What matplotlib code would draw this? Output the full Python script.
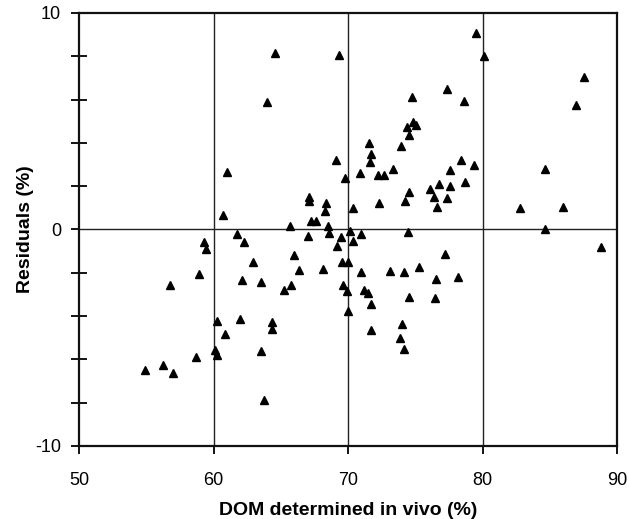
import numpy as np
import matplotlib.pyplot as plt
from matplotlib.ticker import MultipleLocator

plt.rcParams['font.family'] = ['Liberation Sans', 'DejaVu Sans']
plt.rcParams['axes.unicode_minus'] = False

# DOM determined in vivo (%) and residuals (%)
dom_vivo = [
    60.97, 60.7, 64.57, 69.31, 64.0, 71.54, 71.7, 71.6, 69.08, 70.89,
    69.75, 67.12, 67.07, 68.34, 68.29, 70.34, 67.25, 67.64, 65.71, 68.51,
    79.52, 80.11, 77.34, 74.73, 78.65, 74.86, 75.06, 74.36, 74.54, 73.97,
    78.4, 79.39, 73.37, 72.23, 72.68, 77.61, 76.74, 77.56, 78.7, 76.12,
    74.56, 76.36, 77.38, 74.21, 72.3, 76.59, 74.48, 87.55, 86.93, 84.65,
    82.79, 86.0, 84.65, 88.8, 61.77, 59.32, 59.44, 62.29, 62.91, 58.92,
    62.1, 56.74, 60.28, 61.97, 60.88, 60.11, 60.24, 58.67, 56.25, 54.91,
    57.01, 68.59, 67.0, 69.48, 70.15, 70.99, 70.37, 69.16, 65.96, 69.55,
    69.97, 66.38, 68.14, 70.97, 63.55, 65.76, 65.24, 69.6, 69.9, 71.19,
    71.49, 71.68, 69.97, 64.32, 64.37, 71.71, 63.5, 63.75, 77.23, 73.14,
    74.13, 75.3, 76.56, 78.2, 74.54, 76.44, 73.99, 73.89, 74.16,
]
residuals = [
    2.64, 0.69, 8.14, 8.05, 5.9, 3.98, 3.49, 3.1, 3.21, 2.61,
    2.38, 1.52, 1.30, 1.21, 0.84, 1.0, 0.41, 0.41, 0.14, 0.15,
    9.09, 8.02, 6.51, 6.10, 5.94, 4.98, 4.82, 4.75, 4.38, 3.84,
    3.23, 2.98, 2.80, 2.53, 2.53, 2.75, 2.10, 2.03, 2.21, 1.86,
    1.71, 1.51, 1.47, 1.30, 1.21, 1.03, -0.12, 7.02, 5.74, 2.8,
    0.98, 1.03, 0.03, -0.81, -0.2, -0.58, -0.89, -0.6, -1.5, -2.04,
    -2.32, -2.56, -4.24, -4.13, -4.82, -5.58, -5.81, -5.90, -6.25, -6.47,
    -6.61, -0.15, -0.28, -0.37, -0.09, -0.22, -0.51, -0.75, -1.18, -1.49,
    -1.49, -1.89, -1.84, -1.97, -2.44, -2.58, -2.81, -2.55, -2.86, -2.81,
    -2.94, -3.43, -3.78, -4.27, -4.62, -4.65, -5.62, -7.88, -1.15, -1.92,
    -1.97, -1.72, -2.30, -2.2, -3.13, -3.18, -4.35, -5.02, -5.5,
]

x_ticks = [50, 60, 70, 80, 90]
y_ticks = [-10, 0, 10]
v_lines = [60, 70, 80]

fig = plt.figure(figsize=(6.29, 5.19), dpi=100)
ax = fig.add_axes([0.1256, 0.1407, 0.8554, 0.8343])

for v in v_lines:
    ax.axvline(v, color='#222222', lw=1.0, zorder=1)
ax.axhline(0, color='#222222', lw=1.0, zorder=1)

ax.plot(dom_vivo, residuals, linestyle='none', marker='^', color='black',
        markersize=6, zorder=3)

ax.set_xlim(50, 90)
ax.set_ylim(-10, 10)
ax.set_xticks(x_ticks)
ax.set_yticks(y_ticks)
ax.yaxis.set_minor_locator(MultipleLocator(2))
ax.tick_params(axis='y', which='major', direction='out', length=6, width=1.3,
               pad=7, labelsize=13)
ax.tick_params(axis='y', which='minor', direction='inout', length=12, width=1.3)
ax.tick_params(axis='x', which='major', direction='out', length=6, width=1.3,
               pad=13, labelsize=13)
ax.tick_params(top=False, right=False)

for s in ax.spines.values():
    s.set_linewidth(1.6)
    s.set_color('#111111')

ax.set_xlabel('DOM determined in vivo (%)', fontsize=14, fontweight='bold',
              labelpad=9)
ax.set_ylabel('Residuals (%)', fontsize=14, fontweight='bold', labelpad=1)

fig.savefig('out.png', dpi=100)
